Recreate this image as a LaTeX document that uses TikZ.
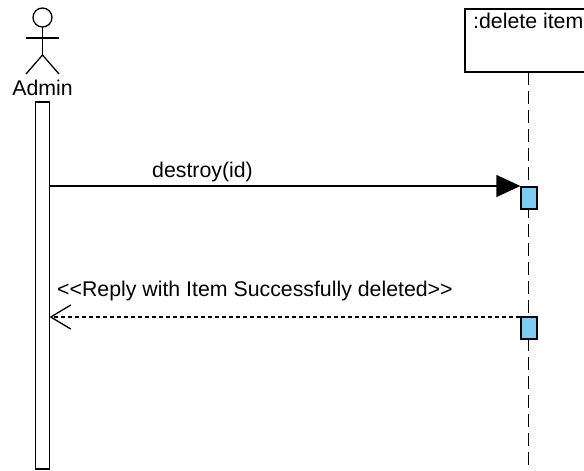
\documentclass[tikz,border=0pt]{standalone}
\usepackage{fontspec}
\setmainfont{Liberation Sans}
\usetikzlibrary{arrows.meta}
\definecolor{actblue}{RGB}{125,205,243}
\tikzset{
  lbl/.style={font=\fontsize{21.3}{25}\selectfont, text=black, inner sep=0pt},
  ln/.style={line width=1.3pt, draw=black},
  actbox/.style={ln, fill=actblue},
  lifeline/.style={line width=1.4pt, dash pattern=on 13pt off 6pt},
  reply/.style={line width=1.1pt, dash pattern=on 4pt off 3pt}
}
\begin{document}
\begin{tikzpicture}[x=1pt,y=-1pt]
\useasboundingbox (0,0) rectangle (584,471);
\clip (0,0) rectangle (584,471);
% actor
\draw[ln] (42.5,17.5) circle (9.5);
\draw[ln] (42.5,27) -- (42.5,55);
\draw[ln] (26,38) -- (59,38);
\draw[ln] (26,74) -- (42.5,55) -- (59,74);
\node[lbl] (admin) at (42.5,87.5) {Admin};
% admin activation bar
\draw[ln, fill=white] (35.5,102) rectangle (49.5,469);
\coordinate (barR1) at (49.5,186);
\coordinate (barR2) at (49.5,317);
% object box
\draw[ln, fill=white] (465,9) rectangle (620,72);
\node[lbl, anchor=north west] (obj) at (473,13) {:delete item};
% lifeline
\coordinate (llTop) at (528.5,72);
\coordinate (llBot) at (528.5,471);
\draw[lifeline] (llTop) -- (llBot);
% activation boxes
\node[actbox, minimum width=16pt, minimum height=22pt, inner sep=0pt] (a1) at (529,198) {};
\node[actbox, minimum width=16pt, minimum height=22pt, inner sep=0pt] (a2) at (529,328) {};
% messages
\draw[ln, -{Triangle[length=24pt,width=22pt]}] (barR1) -- (a1.west |- barR1);
\node[lbl] (m1) at (202.5,172) {destroy(id)};
\draw[reply, -{Straight Barb[length=20pt,width=24pt,line width=1.3pt]}] (a2.west |- barR2) -- (barR2);
\node[lbl, anchor=west] (m2) at (57,291) {<\kern0pt<Reply with Item Successfully deleted>\kern0pt>};
\end{tikzpicture}
\end{document}
